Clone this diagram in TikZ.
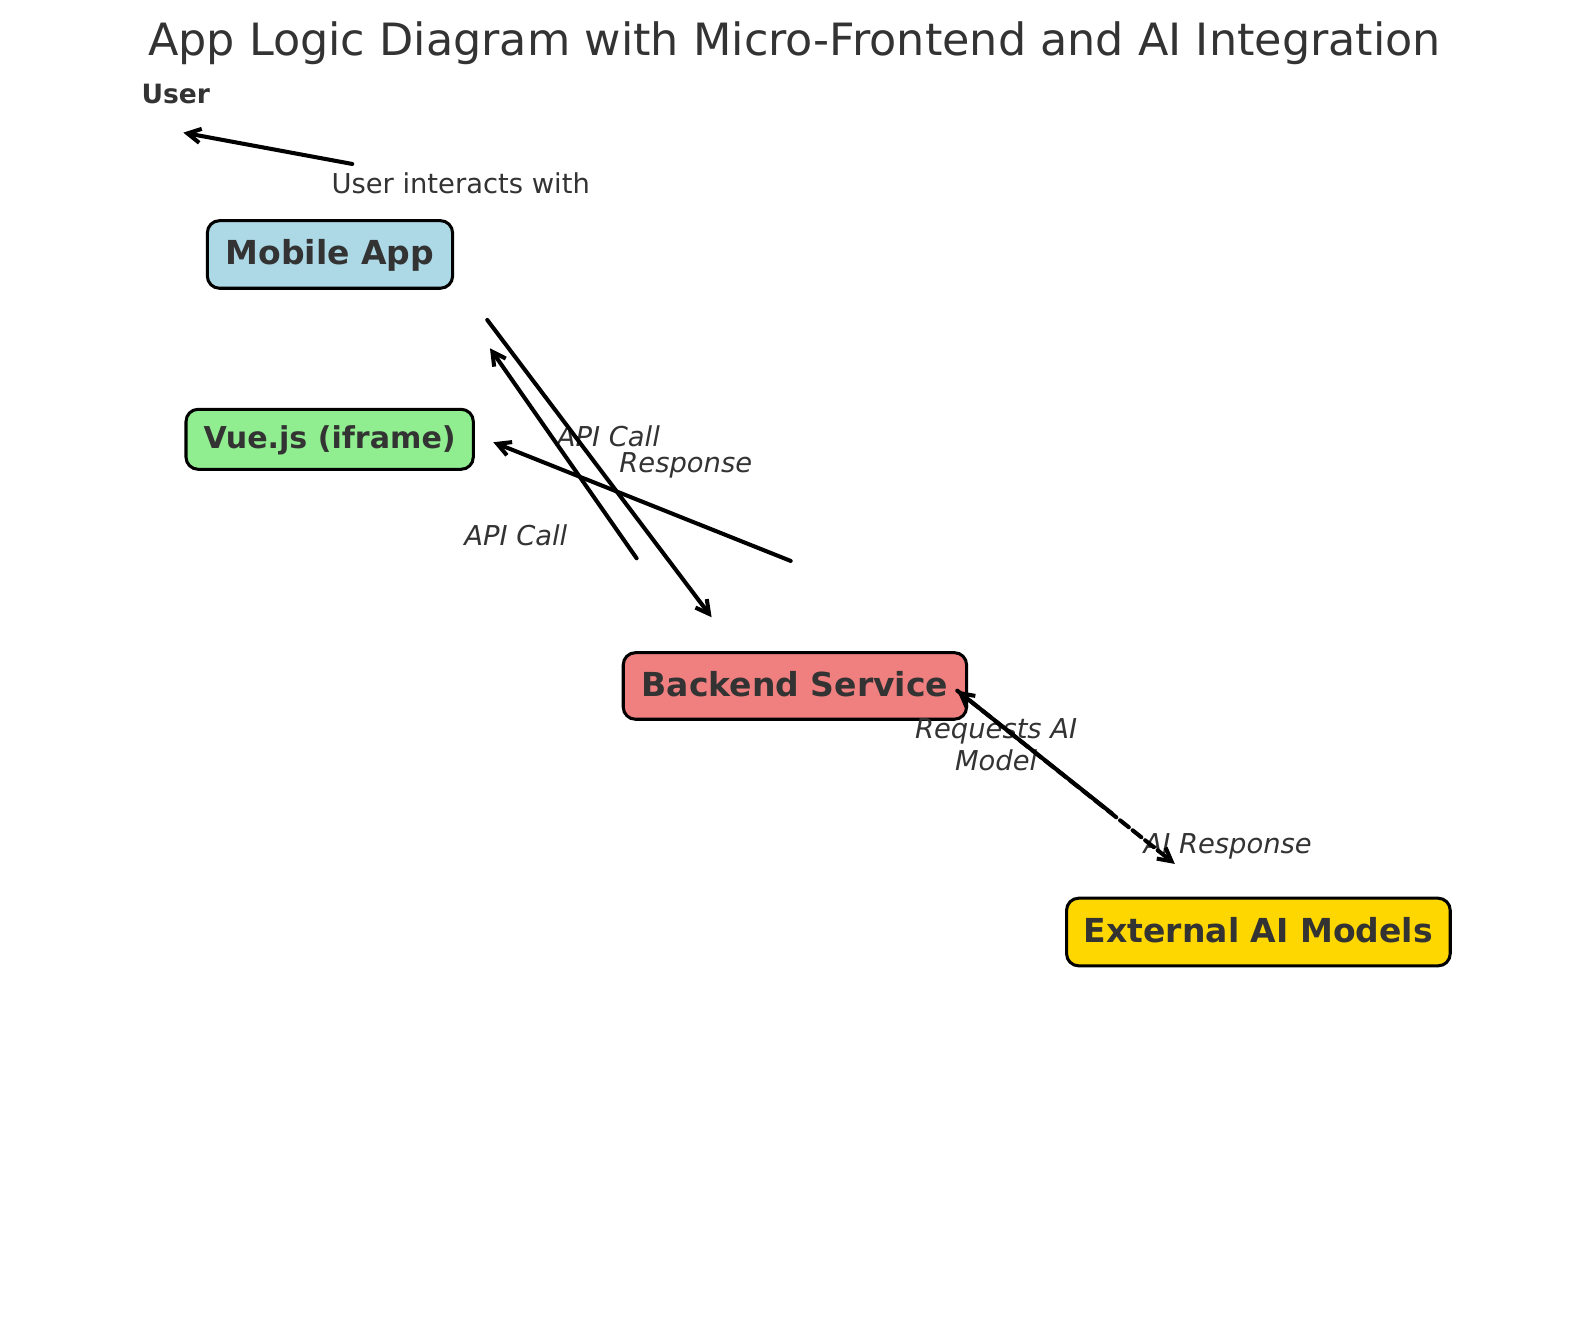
\documentclass[tikz,border=0pt]{standalone}
\usepackage{fontspec}
\setmainfont{DejaVu Sans}
\usetikzlibrary{arrows.meta}
\definecolor{txt}{HTML}{333333}
\definecolor{lblue}{HTML}{ADD8E6}
\definecolor{lgreen}{HTML}{90EE90}
\definecolor{lcoral}{HTML}{F08080}
\definecolor{aigold}{HTML}{FFD700}
\begin{document}
\begin{tikzpicture}[x=0.5pt,y=-0.5pt,
  box/.style={draw=black, line width=1.5pt, rounded corners=6pt, inner sep=0pt, text=txt,
    font=\fontsize{16.3}{19}\selectfont\bfseries, text height=12.35pt, text depth=2.45pt},
  lbl/.style={text=txt, inner sep=0pt, anchor=base, font=\fontsize{13.5}{15.6}\selectfont},
  ilbl/.style={lbl, font=\fontsize{13.5}{15.6}\selectfont\itshape},
  conn/.style={line width=2pt, line cap=round, line join=round, -{Straight Barb[length=6.5pt,width=7pt]}},
  dconn/.style={conn, dash pattern=on 5.5pt off 2.4pt},
]
\fill[white] (0,0) rectangle (1568,1304.4);
\useasboundingbox (0,0) rectangle (1568,1304.4);

\node[anchor=base, text=txt, inner sep=0pt, font=\fontsize{21.95}{26}\selectfont] (title) at (784,55)
  {App Logic Diagram with Micro-Frontend and AI Integration};

% boxes
\node[box, fill=lblue, minimum width=121pt, minimum height=33.35pt] (mobile) at (325.6,251.1) {Mobile App};
\node[box, fill=lgreen, minimum width=141.75pt, minimum height=29.6pt,
  font=\fontsize{14.85}{17}\selectfont\bfseries, text height=11.3pt, text depth=2.4pt] (vue) at (325.3,433.5) {Vue.js (iframe)};
\node[box, fill=lcoral, minimum width=169.4pt, minimum height=32.85pt] (backend) at (784.4,676.9) {Backend Service};
\node[box, fill=aigold, minimum width=189.3pt, minimum height=33.4pt] (ext) at (1241.75,919.7) {External AI Models};

% labels
\node[lbl, font=\fontsize{13.1}{15}\selectfont\bfseries] (user) at (173.5,102) {User};
\node[lbl] (interacts) at (454.6,190.8) {User interacts with};
\node[ilbl] (api1) at (600.3,440.7) {API Call};
\node[ilbl] (resp) at (676.7,466.4) {Response};
\node[ilbl] (api2) at (509,538.7) {API Call};
\node[ilbl, align=center] (req) at (983,760.4) {Requests AI\\Model};
\node[ilbl] (aires) at (1211.5,842.6) {AI Response};

% connector end points
\coordinate (u1) at (347.6,161.8);
\coordinate (u2) at (180.9,130.9);
\coordinate (a1s) at (480.8,315.7);
\coordinate (a1e) at (702.2,609.1);
\coordinate (a2s) at (628.2,550.9);
\coordinate (a2e) at (483.5,343.7);
\coordinate (r1s) at (780.2,553.5);
\coordinate (r1e) at (486.8,436.4);
\coordinate (bk) at (944.6,681.5);
\coordinate (mid) at (1097,802.5);
\coordinate (ai) at (1159.3,852.5);

\draw[conn] (u1) -- (u2);
\draw[conn] (a1s) -- (a1e);
\draw[conn] (a2s) -- (a2e);
\draw[conn] (r1s) -- (r1e);
\draw[dconn] (bk) -- (ai);
\draw[conn] (mid) -- (bk);
\end{tikzpicture}
\end{document}
